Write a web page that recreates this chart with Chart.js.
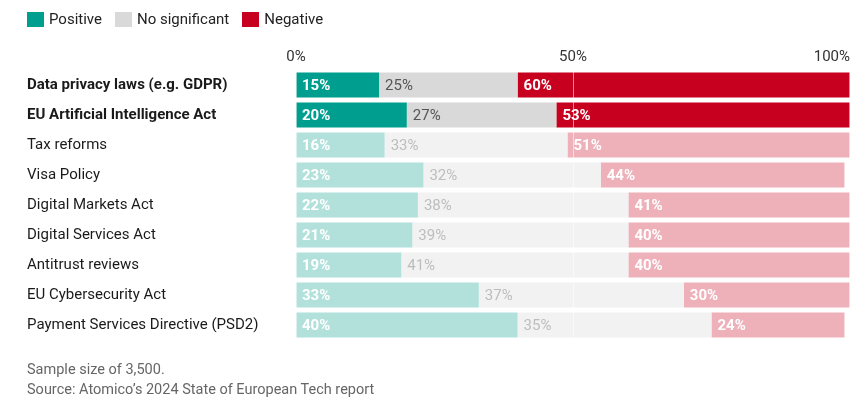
<!DOCTYPE html>
<html>
<head>
<meta charset="utf-8">
<script src="https://cdn.jsdelivr.net/npm/chart.js@4"></script>
<style>
  body { margin: 0; background: #fff; }
  #wrap { position: relative; width: 857px; height: 397px; }
  #legend { position: absolute; left: 27px; top: 10px; font: 15px Roboto, sans-serif; color: #222; display: flex; align-items: center; }
  #legend span.sw { display: inline-block; width: 17px; height: 15px; margin-right: 5px; }
  #legend span.lab { margin-right: 13px; line-height: 18px; }
  #foot { position: absolute; left: 27px; top: 360px; font: 14.5px Roboto, sans-serif; color: #666; line-height: 20px; }
</style>
</head>
<body>
<div id="wrap">
  <canvas id="myChart" width="857" height="397"></canvas>
  <div id="legend"></div>
  <div id="foot">Sample size of 3,500.<br>Source: Atomico’s 2024 State of European Tech report</div>
</div>
<script>
// data
let categories = ['Data privacy laws (e.g. GDPR)', 'EU Artificial Intelligence Act', 'Tax reforms', 'Visa Policy',
    'Digital Markets Act', 'Digital Services Act', 'Antitrust reviews', 'EU Cybersecurity Act', 'Payment Services Directive (PSD2)'];
let positive = [15, 20, 16, 23, 22, 21, 19, 33, 40];
let neutral = [25, 27, 33, 32, 38, 39, 41, 37, 35];
let negative = [60, 53, 51, 44, 41, 40, 40, 30, 24];
let highlighted = [true, true, false, false, false, false, false, false, false];
let xTicks = [0, 50, 100];

const FONT = 'Roboto, sans-serif';

// strong colour for highlighted rows, faded for the rest
function rowColors(strong, faded) {
    return highlighted.map(h => h ? strong : faded);
}

// draws the % labels inside the bars, grid lines on top and the top axis labels
const barLabels = {
    id: 'barLabels',
    afterDatasetsDraw(chart) {
        let ctx = chart.ctx;
        let xs = chart.scales.x;
        let area = chart.chartArea;
        ctx.save();
        ctx.strokeStyle = 'rgba(255,255,255,0.55)';
        ctx.lineWidth = 1;
        xTicks.forEach(t => {
            let px = Math.round(xs.getPixelForValue(t)) + 0.5;
            if (t == 100) px -= 1;
            ctx.beginPath();
            ctx.moveTo(px, area.top);
            ctx.lineTo(px, area.bottom);
            ctx.stroke();
        });
        ctx.textBaseline = 'middle';
        ctx.textAlign = 'left';
        chart.data.datasets.forEach((ds, di) => {
            let meta = chart.getDatasetMeta(di);
            meta.data.forEach((bar, i) => {
                let left = Math.min(bar.x, bar.base);
                if (di == 1) {
                    ctx.font = '15px ' + FONT;
                    ctx.fillStyle = highlighted[i] ? '#555' : '#bdbdbd';
                } else {
                    ctx.font = 'bold 15px ' + FONT;
                    ctx.fillStyle = '#fff';
                }
                ctx.fillText(ds.data[i] + '%', left + 6, bar.y + 1);
            });
        });
        // top axis labels
        ctx.font = '15px ' + FONT;
        ctx.fillStyle = '#333';
        xTicks.forEach(t => {
            ctx.textAlign = t == 100 ? 'right' : 'center';
            ctx.fillText(t + '%', xs.getPixelForValue(t), 57);
        });
        ctx.restore();
    }
};

const config = {
    type: 'bar',
    data: {
        labels: categories,
        datasets: [{
            label: 'Positive',
            data: positive,
            backgroundColor: rowColors('#009e8e', '#b2e1dc'),
            legendColor: '#009e8e'
        },
        {
            label: 'No significant',
            data: neutral,
            backgroundColor: rowColors('#d9d9d9', '#f2f2f2'),
            legendColor: '#d9d9d9'
        },
        {
            label: 'Negative',
            data: negative,
            backgroundColor: rowColors('#c8001f', '#eeb1ba'),
            legendColor: '#c8001f'
        }]
    },
    options: {
        indexAxis: 'y',
        responsive: false,
        animation: false,
        layout: { padding: { left: 27, right: 7, top: 34, bottom: 57 } },
        categoryPercentage: 0.84,
        barPercentage: 1,
        plugins: {
            tooltip: { enabled: false },
            legend: { display: false }
        },
        scales: {
            x: {
                stacked: true,
                position: 'top',
                min: 0,
                max: 100,
                grid: { display: false },
                border: { display: false },
                ticks: { display: false },
                afterFit(scale) { scale.height = 36; }
            },
            y: {
                stacked: true,
                grid: { display: false },
                border: { display: false },
                ticks: {
                    crossAlign: 'far',
                    color: '#1a1a1a',
                    padding: 0,
                    font: ctx => ({ family: FONT, size: 15, weight: highlighted[ctx.index] ? 'bold' : 'normal' })
                },
                afterFit(scale) { scale.width = 269; }
            }
        }
    },
    plugins: [barLabels]
};

let myChart = new Chart(document.getElementById('myChart'), config);

// legend
let legendDiv = document.getElementById('legend');
config.data.datasets.forEach(ds => {
    legendDiv.innerHTML += '<span class="sw" style="background:' + ds.legendColor + '"></span><span class="lab">' + ds.label + '</span>';
});
</script>
</body>
</html>
